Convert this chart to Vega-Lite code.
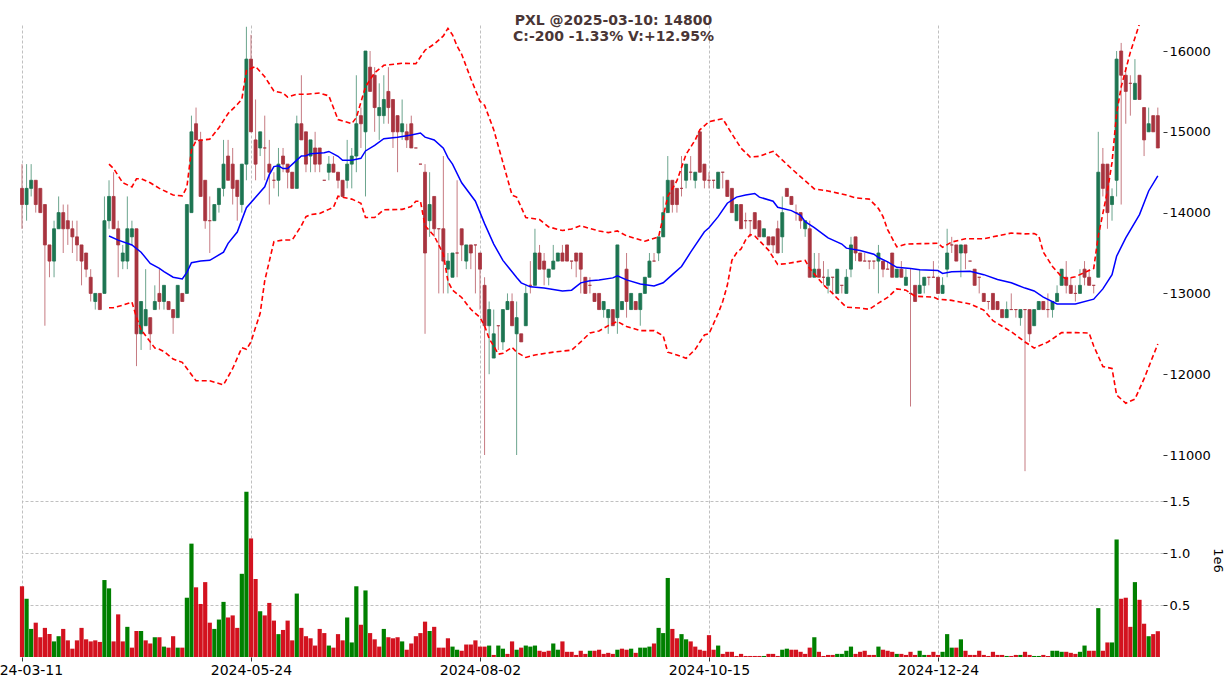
{
"$schema": "https://vega.github.io/schema/vega-lite/v6.json",
"width": 1141, "height": 632,
"autosize": {"type": "none"},
"padding": {"left": 22, "top": 25, "right": 63, "bottom": 33},
"background": "#ffffff",
"config": {"view": {"stroke": null}, "font": "DejaVu Sans",
  "axis": {"labelFont": "DejaVu Sans", "labelFontSize": 13, "labelColor": "#000000", "domain": false, "ticks": true, "tickSize": 4, "tickColor": "#000000", "tickWidth": 0.8, "grid": true, "gridColor": "#b0b0b0", "gridDash": [3, 2], "gridWidth": 0.8, "labelPadding": 2, "title": null}},
"title": {"text": ["PXL @2025-03-10: 14800", "C:-200 -1.33% V:+12.95%"], "font": "DejaVu Sans", "fontSize": 14, "fontWeight": "bold", "color": "#4a3636", "anchor": "middle", "frame": "group", "offset": -19, "dx": 21, "lineHeight": 16},
"datasets": {
"k": [
{"i":0,"o":14300,"h":14600,"l":13800,"c":14100,"v":680000,"vd":"d"},
{"i":1,"o":14100,"h":14600,"l":13900,"c":14300,"v":560000,"vd":"u"},
{"i":2,"o":14300,"h":14600,"l":14200,"c":14400,"v":270000,"vd":"u"},
{"i":3,"o":14400,"h":14400,"l":14000,"c":14100,"v":330000,"vd":"d"},
{"i":4,"o":14300,"h":14300,"l":14000,"c":14000,"v":190000,"vd":"d"},
{"i":5,"o":14100,"h":14100,"l":12600,"c":13600,"v":280000,"vd":"d"},
{"i":6,"o":13600,"h":13600,"l":13200,"c":13400,"v":220000,"vd":"d"},
{"i":7,"o":13400,"h":13900,"l":13200,"c":13800,"v":150000,"vd":"u"},
{"i":8,"o":13800,"h":14200,"l":13800,"c":14000,"v":200000,"vd":"u"},
{"i":9,"o":14000,"h":14100,"l":13500,"c":13800,"v":270000,"vd":"d"},
{"i":10,"o":13900,"h":14100,"l":13600,"c":13800,"v":160000,"vd":"d"},
{"i":11,"o":13800,"h":13900,"l":13500,"c":13700,"v":80000,"vd":"d"},
{"i":12,"o":13700,"h":13900,"l":13400,"c":13600,"v":160000,"vd":"d"},
{"i":13,"o":13600,"h":13600,"l":13100,"c":13400,"v":280000,"vd":"d"},
{"i":14,"o":13500,"h":13500,"l":13200,"c":13300,"v":170000,"vd":"d"},
{"i":15,"o":13200,"h":13300,"l":12900,"c":13000,"v":150000,"vd":"d"},
{"i":16,"o":12900,"h":13000,"l":12800,"c":13000,"v":160000,"vd":"d"},
{"i":17,"o":13000,"h":13000,"l":12800,"c":12800,"v":145000,"vd":"d"},
{"i":18,"o":13000,"h":14200,"l":13000,"c":13900,"v":740000,"vd":"u"},
{"i":19,"o":13900,"h":14400,"l":13800,"c":14200,"v":660000,"vd":"u"},
{"i":20,"o":14200,"h":14500,"l":13800,"c":13800,"v":150000,"vd":"d"},
{"i":21,"o":13800,"h":13900,"l":13200,"c":13600,"v":410000,"vd":"d"},
{"i":22,"o":13400,"h":13600,"l":13300,"c":13500,"v":150000,"vd":"d"},
{"i":23,"o":13400,"h":14200,"l":13300,"c":13800,"v":290000,"vd":"u"},
{"i":24,"o":13700,"h":13900,"l":13600,"c":13800,"v":90000,"vd":"d"},
{"i":25,"o":13800,"h":13800,"l":12100,"c":12500,"v":250000,"vd":"d"},
{"i":26,"o":12500,"h":12900,"l":12300,"c":12900,"v":250000,"vd":"u"},
{"i":27,"o":12600,"h":13300,"l":12600,"c":12800,"v":160000,"vd":"d"},
{"i":28,"o":12700,"h":12700,"l":12300,"c":12500,"v":130000,"vd":"d"},
{"i":29,"o":12800,"h":13100,"l":12800,"c":12900,"v":190000,"vd":"u"},
{"i":30,"o":13000,"h":13300,"l":12800,"c":12900,"v":190000,"vd":"d"},
{"i":31,"o":12900,"h":13100,"l":12800,"c":13100,"v":100000,"vd":"u"},
{"i":32,"o":12900,"h":12900,"l":12800,"c":12800,"v":90000,"vd":"d"},
{"i":33,"o":12800,"h":12800,"l":12500,"c":12700,"v":200000,"vd":"d"},
{"i":34,"o":12700,"h":13100,"l":12700,"c":13100,"v":90000,"vd":"u"},
{"i":35,"o":13000,"h":13000,"l":12900,"c":12900,"v":90000,"vd":"d"},
{"i":36,"o":13000,"h":14100,"l":13000,"c":14100,"v":570000,"vd":"u"},
{"i":37,"o":14000,"h":15200,"l":14000,"c":15000,"v":1090000,"vd":"u"},
{"i":38,"o":15100,"h":15300,"l":14900,"c":14900,"v":670000,"vd":"d"},
{"i":39,"o":14900,"h":15000,"l":14200,"c":14200,"v":510000,"vd":"d"},
{"i":40,"o":14400,"h":14400,"l":13800,"c":13900,"v":720000,"vd":"d"},
{"i":41,"o":13900,"h":14200,"l":13500,"c":13900,"v":330000,"vd":"d"},
{"i":42,"o":13900,"h":14100,"l":13900,"c":14100,"v":270000,"vd":"u"},
{"i":43,"o":14100,"h":14300,"l":14000,"c":14300,"v":360000,"vd":"u"},
{"i":44,"o":14300,"h":14900,"l":14200,"c":14600,"v":530000,"vd":"u"},
{"i":45,"o":14700,"h":14900,"l":14400,"c":14400,"v":380000,"vd":"d"},
{"i":46,"o":14600,"h":14800,"l":14100,"c":14300,"v":400000,"vd":"d"},
{"i":47,"o":14400,"h":14400,"l":13900,"c":14200,"v":280000,"vd":"d"},
{"i":48,"o":14100,"h":14600,"l":14000,"c":14600,"v":800000,"vd":"u"},
{"i":49,"o":14600,"h":16300,"l":14400,"c":15900,"v":1590000,"vd":"u"},
{"i":50,"o":15900,"h":16200,"l":15000,"c":15000,"v":1140000,"vd":"d"},
{"i":51,"o":14900,"h":15400,"l":14400,"c":14600,"v":750000,"vd":"d"},
{"i":52,"o":14800,"h":15000,"l":14700,"c":15000,"v":440000,"vd":"u"},
{"i":53,"o":14800,"h":15200,"l":14400,"c":14800,"v":400000,"vd":"d"},
{"i":54,"o":14600,"h":14900,"l":14100,"c":14500,"v":520000,"vd":"d"},
{"i":55,"o":14400,"h":14500,"l":14300,"c":14400,"v":350000,"vd":"d"},
{"i":56,"o":14400,"h":14800,"l":14200,"c":14600,"v":220000,"vd":"u"},
{"i":57,"o":14700,"h":14800,"l":14500,"c":14600,"v":260000,"vd":"d"},
{"i":58,"o":14600,"h":14600,"l":14300,"c":14500,"v":350000,"vd":"d"},
{"i":59,"o":14500,"h":14500,"l":14300,"c":14300,"v":160000,"vd":"d"},
{"i":60,"o":14300,"h":15200,"l":14300,"c":15100,"v":610000,"vd":"u"},
{"i":61,"o":15100,"h":15700,"l":14900,"c":14900,"v":280000,"vd":"d"},
{"i":62,"o":15000,"h":15000,"l":14500,"c":14600,"v":200000,"vd":"d"},
{"i":63,"o":14700,"h":14900,"l":14500,"c":14900,"v":180000,"vd":"d"},
{"i":64,"o":14800,"h":15000,"l":14500,"c":14600,"v":110000,"vd":"d"},
{"i":65,"o":14800,"h":14800,"l":14500,"c":14600,"v":270000,"vd":"d"},
{"i":66,"o":14400,"h":14400,"l":14400,"c":14400,"v":230000,"vd":"d"},
{"i":67,"o":14500,"h":14700,"l":14400,"c":14600,"v":110000,"vd":"u"},
{"i":68,"o":14600,"h":14700,"l":14500,"c":14500,"v":90000,"vd":"d"},
{"i":69,"o":14500,"h":14500,"l":14300,"c":14400,"v":220000,"vd":"d"},
{"i":70,"o":14400,"h":14400,"l":14200,"c":14200,"v":160000,"vd":"d"},
{"i":71,"o":14400,"h":14900,"l":14300,"c":14600,"v":380000,"vd":"u"},
{"i":72,"o":14600,"h":14800,"l":14300,"c":14700,"v":140000,"vd":"u"},
{"i":73,"o":14700,"h":15700,"l":14500,"c":15100,"v":680000,"vd":"u"},
{"i":74,"o":15200,"h":15300,"l":14800,"c":15100,"v":310000,"vd":"d"},
{"i":75,"o":15000,"h":16000,"l":14200,"c":16000,"v":640000,"vd":"u"},
{"i":76,"o":15800,"h":16000,"l":15500,"c":15500,"v":230000,"vd":"d"},
{"i":77,"o":15700,"h":15800,"l":15000,"c":15300,"v":170000,"vd":"d"},
{"i":78,"o":15200,"h":15600,"l":14900,"c":15300,"v":100000,"vd":"d"},
{"i":79,"o":15200,"h":15700,"l":15100,"c":15400,"v":270000,"vd":"u"},
{"i":80,"o":15500,"h":15800,"l":15100,"c":15300,"v":190000,"vd":"d"},
{"i":81,"o":15400,"h":15400,"l":14800,"c":15000,"v":180000,"vd":"d"},
{"i":82,"o":15200,"h":15200,"l":14500,"c":15000,"v":190000,"vd":"d"},
{"i":83,"o":15000,"h":15400,"l":14900,"c":15100,"v":150000,"vd":"u"},
{"i":84,"o":15000,"h":15100,"l":14800,"c":14900,"v":70000,"vd":"d"},
{"i":85,"o":15100,"h":15200,"l":14800,"c":14800,"v":130000,"vd":"d"},
{"i":86,"o":14800,"h":14800,"l":14800,"c":14800,"v":200000,"vd":"d"},
{"i":87,"o":14600,"h":14600,"l":14600,"c":14600,"v":230000,"vd":"d"},
{"i":88,"o":14500,"h":14600,"l":12500,"c":13500,"v":340000,"vd":"d"},
{"i":89,"o":13900,"h":14500,"l":13700,"c":14100,"v":250000,"vd":"u"},
{"i":90,"o":14200,"h":14200,"l":13700,"c":13800,"v":290000,"vd":"d"},
{"i":91,"o":13800,"h":13800,"l":13000,"c":13800,"v":90000,"vd":"d"},
{"i":92,"o":13800,"h":14700,"l":13000,"c":13400,"v":90000,"vd":"d"},
{"i":93,"o":13300,"h":13500,"l":13000,"c":13400,"v":180000,"vd":"d"},
{"i":94,"o":13200,"h":13500,"l":13200,"c":13500,"v":100000,"vd":"u"},
{"i":95,"o":13500,"h":14400,"l":13200,"c":13500,"v":70000,"vd":"u"},
{"i":96,"o":13800,"h":13800,"l":13400,"c":13600,"v":60000,"vd":"d"},
{"i":97,"o":13400,"h":13600,"l":13300,"c":13600,"v":120000,"vd":"d"},
{"i":98,"o":13600,"h":13600,"l":13300,"c":13500,"v":120000,"vd":"d"},
{"i":99,"o":13600,"h":13600,"l":13000,"c":13600,"v":160000,"vd":"d"},
{"i":100,"o":13500,"h":13500,"l":12800,"c":13300,"v":100000,"vd":"d"},
{"i":101,"o":13100,"h":13200,"l":11000,"c":12600,"v":100000,"vd":"d"},
{"i":102,"o":12600,"h":12900,"l":12000,"c":12800,"v":110000,"vd":"u"},
{"i":103,"o":12200,"h":12800,"l":12200,"c":12500,"v":20000,"vd":"d"},
{"i":104,"o":12600,"h":12600,"l":12300,"c":12600,"v":110000,"vd":"u"},
{"i":105,"o":12400,"h":12800,"l":12300,"c":12800,"v":80000,"vd":"u"},
{"i":106,"o":12800,"h":13000,"l":12800,"c":12900,"v":30000,"vd":"d"},
{"i":107,"o":12900,"h":13000,"l":12600,"c":12600,"v":150000,"vd":"d"},
{"i":108,"o":12500,"h":12900,"l":11000,"c":12700,"v":70000,"vd":"u"},
{"i":109,"o":12500,"h":12500,"l":12400,"c":12400,"v":90000,"vd":"d"},
{"i":110,"o":12600,"h":13100,"l":12600,"c":13000,"v":110000,"vd":"u"},
{"i":111,"o":13100,"h":13400,"l":13000,"c":13100,"v":100000,"vd":"u"},
{"i":112,"o":13100,"h":13800,"l":13100,"c":13500,"v":110000,"vd":"u"},
{"i":113,"o":13500,"h":13600,"l":13300,"c":13300,"v":60000,"vd":"d"},
{"i":114,"o":13400,"h":13500,"l":13100,"c":13300,"v":50000,"vd":"d"},
{"i":115,"o":13200,"h":13300,"l":13100,"c":13300,"v":60000,"vd":"d"},
{"i":116,"o":13300,"h":13600,"l":13300,"c":13400,"v":130000,"vd":"u"},
{"i":117,"o":13400,"h":13500,"l":13400,"c":13500,"v":70000,"vd":"u"},
{"i":118,"o":13500,"h":13600,"l":13400,"c":13400,"v":150000,"vd":"d"},
{"i":119,"o":13600,"h":13600,"l":13400,"c":13400,"v":50000,"vd":"d"},
{"i":120,"o":13400,"h":13400,"l":13300,"c":13400,"v":50000,"vd":"d"},
{"i":121,"o":13500,"h":13500,"l":13200,"c":13400,"v":20000,"vd":"d"},
{"i":122,"o":13500,"h":13500,"l":13000,"c":13300,"v":60000,"vd":"d"},
{"i":123,"o":13200,"h":13200,"l":13000,"c":13000,"v":30000,"vd":"d"},
{"i":124,"o":13100,"h":13200,"l":13000,"c":13100,"v":60000,"vd":"u"},
{"i":125,"o":13000,"h":13000,"l":12900,"c":12900,"v":60000,"vd":"d"},
{"i":126,"o":13000,"h":13000,"l":12800,"c":12800,"v":70000,"vd":"d"},
{"i":127,"o":12800,"h":12900,"l":12700,"c":12900,"v":30000,"vd":"d"},
{"i":128,"o":12700,"h":12800,"l":12500,"c":12800,"v":40000,"vd":"d"},
{"i":129,"o":12800,"h":12800,"l":12600,"c":12600,"v":30000,"vd":"d"},
{"i":130,"o":12700,"h":13600,"l":12500,"c":13600,"v":70000,"vd":"u"},
{"i":131,"o":12800,"h":12900,"l":12800,"c":12900,"v":80000,"vd":"d"},
{"i":132,"o":13300,"h":13500,"l":12700,"c":12900,"v":70000,"vd":"d"},
{"i":133,"o":12800,"h":13000,"l":12800,"c":13000,"v":80000,"vd":"u"},
{"i":134,"o":12900,"h":12900,"l":12800,"c":12800,"v":40000,"vd":"d"},
{"i":135,"o":12800,"h":13000,"l":12600,"c":13000,"v":90000,"vd":"u"},
{"i":136,"o":13000,"h":13200,"l":13000,"c":13200,"v":90000,"vd":"u"},
{"i":137,"o":13200,"h":13500,"l":13200,"c":13400,"v":100000,"vd":"u"},
{"i":138,"o":13400,"h":13500,"l":13400,"c":13400,"v":130000,"vd":"d"},
{"i":139,"o":13500,"h":13700,"l":13400,"c":13700,"v":280000,"vd":"u"},
{"i":140,"o":13700,"h":14200,"l":13700,"c":14000,"v":230000,"vd":"u"},
{"i":141,"o":14000,"h":14700,"l":14000,"c":14400,"v":760000,"vd":"u"},
{"i":142,"o":14400,"h":14400,"l":14000,"c":14100,"v":270000,"vd":"d"},
{"i":143,"o":14300,"h":14300,"l":14000,"c":14100,"v":180000,"vd":"d"},
{"i":144,"o":14300,"h":14700,"l":14200,"c":14300,"v":220000,"vd":"u"},
{"i":145,"o":14400,"h":14600,"l":14300,"c":14600,"v":170000,"vd":"u"},
{"i":146,"o":14500,"h":14700,"l":14400,"c":14500,"v":150000,"vd":"d"},
{"i":147,"o":14400,"h":14500,"l":14300,"c":14500,"v":100000,"vd":"d"},
{"i":148,"o":15000,"h":15000,"l":14500,"c":14500,"v":70000,"vd":"d"},
{"i":149,"o":14600,"h":14600,"l":14300,"c":14400,"v":60000,"vd":"d"},
{"i":150,"o":14400,"h":14500,"l":14300,"c":14400,"v":210000,"vd":"d"},
{"i":151,"o":14400,"h":14400,"l":14300,"c":14400,"v":70000,"vd":"d"},
{"i":152,"o":14300,"h":14500,"l":14300,"c":14500,"v":110000,"vd":"u"},
{"i":153,"o":14500,"h":14500,"l":14300,"c":14500,"v":30000,"vd":"d"},
{"i":154,"o":14400,"h":14400,"l":14200,"c":14200,"v":50000,"vd":"d"},
{"i":155,"o":14300,"h":14300,"l":14000,"c":14000,"v":50000,"vd":"d"},
{"i":156,"o":13900,"h":14100,"l":13900,"c":14100,"v":10000,"vd":"d"},
{"i":157,"o":14100,"h":14100,"l":13800,"c":13800,"v":30000,"vd":"d"},
{"i":158,"o":13900,"h":14000,"l":13800,"c":13900,"v":10000,"vd":"d"},
{"i":159,"o":13900,"h":13900,"l":13700,"c":13900,"v":10000,"vd":"d"},
{"i":160,"o":14000,"h":14000,"l":13800,"c":13800,"v":10000,"vd":"d"},
{"i":161,"o":13900,"h":13900,"l":13700,"c":13700,"v":10000,"vd":"d"},
{"i":162,"o":13700,"h":13800,"l":13700,"c":13800,"v":10000,"vd":"u"},
{"i":163,"o":13700,"h":13700,"l":13600,"c":13600,"v":30000,"vd":"d"},
{"i":164,"o":13700,"h":13700,"l":13500,"c":13600,"v":30000,"vd":"d"},
{"i":165,"o":13800,"h":13900,"l":13500,"c":13500,"v":10000,"vd":"d"},
{"i":166,"o":13700,"h":14200,"l":13500,"c":14000,"v":70000,"vd":"u"},
{"i":167,"o":14300,"h":14300,"l":14200,"c":14200,"v":80000,"vd":"u"},
{"i":168,"o":14200,"h":14200,"l":14100,"c":14100,"v":70000,"vd":"d"},
{"i":169,"o":14000,"h":14100,"l":13900,"c":14000,"v":70000,"vd":"d"},
{"i":170,"o":14000,"h":14000,"l":13800,"c":13900,"v":50000,"vd":"d"},
{"i":171,"o":13800,"h":13900,"l":13700,"c":13900,"v":30000,"vd":"d"},
{"i":172,"o":13800,"h":13900,"l":13200,"c":13200,"v":90000,"vd":"d"},
{"i":173,"o":13200,"h":13500,"l":13200,"c":13300,"v":190000,"vd":"u"},
{"i":174,"o":13300,"h":13500,"l":13200,"c":13200,"v":50000,"vd":"d"},
{"i":175,"o":13200,"h":13400,"l":13100,"c":13200,"v":10000,"vd":"d"},
{"i":176,"o":13100,"h":13300,"l":13000,"c":13200,"v":20000,"vd":"d"},
{"i":177,"o":13200,"h":13200,"l":13000,"c":13200,"v":20000,"vd":"d"},
{"i":178,"o":13000,"h":13300,"l":13000,"c":13300,"v":30000,"vd":"u"},
{"i":179,"o":13100,"h":13100,"l":13000,"c":13100,"v":30000,"vd":"u"},
{"i":180,"o":13000,"h":13300,"l":13000,"c":13200,"v":60000,"vd":"u"},
{"i":181,"o":13300,"h":13700,"l":13200,"c":13600,"v":100000,"vd":"u"},
{"i":182,"o":13700,"h":13700,"l":13400,"c":13500,"v":30000,"vd":"d"},
{"i":183,"o":13500,"h":13500,"l":13400,"c":13400,"v":50000,"vd":"d"},
{"i":184,"o":13400,"h":13500,"l":13400,"c":13400,"v":60000,"vd":"d"},
{"i":185,"o":13400,"h":13400,"l":13300,"c":13400,"v":20000,"vd":"d"},
{"i":186,"o":13400,"h":13400,"l":13300,"c":13400,"v":20000,"vd":"d"},
{"i":187,"o":13400,"h":13600,"l":13000,"c":13500,"v":100000,"vd":"u"},
{"i":188,"o":13400,"h":13400,"l":13200,"c":13300,"v":70000,"vd":"d"},
{"i":189,"o":13300,"h":13400,"l":13300,"c":13300,"v":60000,"vd":"d"},
{"i":190,"o":13500,"h":13500,"l":13200,"c":13200,"v":50000,"vd":"d"},
{"i":191,"o":13200,"h":13300,"l":13200,"c":13300,"v":30000,"vd":"u"},
{"i":192,"o":13300,"h":13400,"l":13200,"c":13200,"v":30000,"vd":"d"},
{"i":193,"o":13100,"h":13300,"l":13100,"c":13200,"v":20000,"vd":"d"},
{"i":194,"o":13000,"h":13300,"l":11600,"c":13000,"v":50000,"vd":"d"},
{"i":195,"o":13100,"h":13100,"l":12900,"c":12900,"v":20000,"vd":"d"},
{"i":196,"o":13000,"h":13300,"l":13000,"c":13100,"v":60000,"vd":"u"},
{"i":197,"o":13100,"h":13200,"l":13000,"c":13200,"v":20000,"vd":"u"},
{"i":198,"o":13200,"h":13200,"l":13100,"c":13200,"v":20000,"vd":"d"},
{"i":199,"o":13200,"h":13400,"l":13200,"c":13200,"v":50000,"vd":"d"},
{"i":200,"o":13200,"h":13200,"l":13000,"c":13000,"v":20000,"vd":"d"},
{"i":201,"o":13000,"h":13200,"l":13000,"c":13100,"v":50000,"vd":"u"},
{"i":202,"o":13300,"h":13800,"l":13200,"c":13500,"v":220000,"vd":"u"},
{"i":203,"o":13600,"h":13700,"l":13500,"c":13600,"v":90000,"vd":"u"},
{"i":204,"o":13600,"h":13600,"l":13400,"c":13400,"v":90000,"vd":"d"},
{"i":205,"o":13500,"h":13600,"l":13200,"c":13600,"v":170000,"vd":"u"},
{"i":206,"o":13600,"h":13600,"l":13300,"c":13500,"v":60000,"vd":"d"},
{"i":207,"o":13400,"h":13400,"l":13400,"c":13400,"v":20000,"vd":"d"},
{"i":208,"o":13300,"h":13300,"l":13100,"c":13100,"v":20000,"vd":"d"},
{"i":209,"o":13200,"h":13200,"l":13000,"c":13200,"v":60000,"vd":"d"},
{"i":210,"o":13000,"h":13000,"l":12900,"c":12900,"v":20000,"vd":"d"},
{"i":211,"o":12900,"h":12900,"l":12800,"c":12900,"v":10000,"vd":"d"},
{"i":212,"o":13000,"h":13000,"l":12800,"c":12800,"v":50000,"vd":"d"},
{"i":213,"o":12900,"h":12900,"l":12800,"c":12800,"v":20000,"vd":"d"},
{"i":214,"o":12800,"h":12800,"l":12700,"c":12700,"v":20000,"vd":"d"},
{"i":215,"o":12700,"h":12900,"l":12700,"c":12800,"v":10000,"vd":"u"},
{"i":216,"o":12800,"h":13000,"l":12800,"c":12800,"v":10000,"vd":"d"},
{"i":217,"o":12800,"h":12800,"l":12700,"c":12800,"v":20000,"vd":"d"},
{"i":218,"o":12700,"h":12800,"l":12600,"c":12800,"v":20000,"vd":"u"},
{"i":219,"o":12800,"h":12800,"l":10800,"c":12800,"v":50000,"vd":"d"},
{"i":220,"o":12800,"h":12800,"l":12400,"c":12500,"v":20000,"vd":"d"},
{"i":221,"o":12600,"h":12800,"l":12600,"c":12800,"v":10000,"vd":"u"},
{"i":222,"o":12800,"h":12900,"l":12800,"c":12900,"v":10000,"vd":"u"},
{"i":223,"o":12900,"h":12900,"l":12800,"c":12800,"v":20000,"vd":"d"},
{"i":224,"o":12800,"h":13000,"l":12700,"c":12800,"v":10000,"vd":"d"},
{"i":225,"o":12800,"h":12900,"l":12700,"c":12900,"v":60000,"vd":"u"},
{"i":226,"o":12900,"h":13100,"l":12900,"c":13000,"v":60000,"vd":"u"},
{"i":227,"o":13100,"h":13300,"l":13100,"c":13300,"v":50000,"vd":"u"},
{"i":228,"o":13200,"h":13400,"l":13000,"c":13100,"v":50000,"vd":"d"},
{"i":229,"o":13100,"h":13200,"l":13000,"c":13000,"v":40000,"vd":"d"},
{"i":230,"o":13000,"h":13100,"l":12900,"c":13000,"v":30000,"vd":"d"},
{"i":231,"o":13000,"h":13300,"l":13000,"c":13100,"v":50000,"vd":"u"},
{"i":232,"o":13300,"h":13400,"l":13100,"c":13200,"v":110000,"vd":"u"},
{"i":233,"o":13200,"h":13300,"l":13100,"c":13100,"v":60000,"vd":"d"},
{"i":234,"o":13100,"h":13100,"l":13000,"c":13100,"v":60000,"vd":"d"},
{"i":235,"o":13200,"h":15000,"l":13200,"c":14500,"v":470000,"vd":"u"},
{"i":236,"o":14600,"h":14800,"l":14200,"c":14300,"v":60000,"vd":"d"},
{"i":237,"o":14600,"h":14600,"l":13800,"c":14000,"v":140000,"vd":"d"},
{"i":238,"o":14100,"h":14300,"l":13900,"c":14200,"v":140000,"vd":"u"},
{"i":239,"o":14400,"h":16000,"l":14200,"c":15900,"v":1130000,"vd":"u"},
{"i":240,"o":16000,"h":16100,"l":14100,"c":15700,"v":560000,"vd":"d"},
{"i":241,"o":15700,"h":15800,"l":15100,"c":15500,"v":570000,"vd":"d"},
{"i":242,"o":15600,"h":15700,"l":15200,"c":15600,"v":290000,"vd":"d"},
{"i":243,"o":15400,"h":15900,"l":15400,"c":15600,"v":720000,"vd":"u"},
{"i":244,"o":15700,"h":15700,"l":15400,"c":15400,"v":550000,"vd":"d"},
{"i":245,"o":15300,"h":15300,"l":14700,"c":14900,"v":320000,"vd":"d"},
{"i":246,"o":15000,"h":15300,"l":15000,"c":15100,"v":200000,"vd":"u"},
{"i":247,"o":15200,"h":15200,"l":15000,"c":15000,"v":220000,"vd":"d"},
{"i":248,"o":15200,"h":15300,"l":14800,"c":14800,"v":248000,"vd":"d"}
],
"ma": [
{"i":19,"p":13710},{"i":21,"p":13660},{"i":24,"p":13600},{"i":26,"p":13510},{"i":28,"p":13370},{"i":30,"p":13310},{"i":31,"p":13270},{"i":33,"p":13200},{"i":35,"p":13180},{"i":36,"p":13260},{"i":37,"p":13380},{"i":39,"p":13400},{"i":41,"p":13410},{"i":44,"p":13510},{"i":45,"p":13620},{"i":47,"p":13760},{"i":48,"p":13910},{"i":49,"p":14060},{"i":51,"p":14190},{"i":53,"p":14320},{"i":54,"p":14470},{"i":55,"p":14570},{"i":56,"p":14580},{"i":57,"p":14545},{"i":58,"p":14545},{"i":60,"p":14650},{"i":61,"p":14700},{"i":62,"p":14705},{"i":63,"p":14730},{"i":66,"p":14742},{"i":67,"p":14757},{"i":69,"p":14697},{"i":70,"p":14647},{"i":72,"p":14647},{"i":74,"p":14672},{"i":75,"p":14763},{"i":77,"p":14833},{"i":79,"p":14914},{"i":82,"p":14934},{"i":85,"p":14960},{"i":87,"p":14985},{"i":88,"p":14934},{"i":90,"p":14899},{"i":92,"p":14798},{"i":93,"p":14681},{"i":94,"p":14600},{"i":96,"p":14369},{"i":99,"p":14141},{"i":101,"p":13864},{"i":103,"p":13611},{"i":105,"p":13409},{"i":107,"p":13268},{"i":108,"p":13197},{"i":109,"p":13131},{"i":111,"p":13081},{"i":114,"p":13066},{"i":118,"p":13030},{"i":120,"p":13040},{"i":122,"p":13131},{"i":124,"p":13157},{"i":126,"p":13167},{"i":129,"p":13192},{"i":130,"p":13217},{"i":132,"p":13167},{"i":135,"p":13116},{"i":138,"p":13091},{"i":140,"p":13131},{"i":142,"p":13232},{"i":144,"p":13333},{"i":146,"p":13510},{"i":149,"p":13763},{"i":150,"p":13813},{"i":152,"p":13950},{"i":154,"p":14116},{"i":156,"p":14192},{"i":158,"p":14217},{"i":160,"p":14237},{"i":161,"p":14192},{"i":164,"p":14141},{"i":165,"p":14066},{"i":168,"p":14025},{"i":170,"p":13965},{"i":171,"p":13889},{"i":173,"p":13813},{"i":176,"p":13687},{"i":179,"p":13611},{"i":180,"p":13560},{"i":183,"p":13530},{"i":186,"p":13485},{"i":187,"p":13444},{"i":189,"p":13390},{"i":191,"p":13323},{"i":194,"p":13308},{"i":196,"p":13293},{"i":200,"p":13283},{"i":201,"p":13248},{"i":203,"p":13268},{"i":207,"p":13273},{"i":210,"p":13232},{"i":213,"p":13172},{"i":216,"p":13131},{"i":219,"p":13066},{"i":221,"p":13030},{"i":223,"p":12955},{"i":226,"p":12869},{"i":230,"p":12869},{"i":234,"p":12929},{"i":236,"p":13056},{"i":238,"p":13232},{"i":239,"p":13460},{"i":241,"p":13687},{"i":244,"p":13975},{"i":246,"p":14268},{"i":248,"p":14455}
],
"up": [
{"i":19,"p":14600},{"i":20,"p":14545},{"i":22,"p":14369},{"i":24,"p":14318},{"i":25,"p":14419},{"i":26,"p":14419},{"i":28,"p":14369},{"i":30,"p":14300},{"i":33,"p":14217},{"i":35,"p":14207},{"i":36,"p":14318},{"i":37,"p":14773},{"i":38,"p":14889},{"i":41,"p":14909},{"i":43,"p":15050},{"i":45,"p":15227},{"i":47,"p":15338},{"i":48,"p":15404},{"i":49,"p":15758},{"i":51,"p":15808},{"i":53,"p":15682},{"i":55,"p":15505},{"i":57,"p":15480},{"i":58,"p":15429},{"i":60,"p":15465},{"i":62,"p":15465},{"i":65,"p":15480},{"i":67,"p":15445},{"i":69,"p":15152},{"i":72,"p":15101},{"i":73,"p":15177},{"i":75,"p":15556},{"i":77,"p":15732},{"i":79,"p":15823},{"i":83,"p":15848},{"i":86,"p":15843},{"i":88,"p":16010},{"i":90,"p":16086},{"i":92,"p":16187},{"i":93,"p":16280},{"i":94,"p":16200},{"i":95,"p":16060},{"i":96,"p":15960},{"i":98,"p":15657},{"i":100,"p":15379},{"i":101,"p":15328},{"i":103,"p":15025},{"i":105,"p":14621},{"i":107,"p":14217},{"i":108,"p":14192},{"i":110,"p":13939},{"i":113,"p":13914},{"i":115,"p":13823},{"i":118,"p":13778},{"i":120,"p":13798},{"i":122,"p":13838},{"i":124,"p":13803},{"i":126,"p":13773},{"i":128,"p":13753},{"i":130,"p":13773},{"i":132,"p":13712},{"i":136,"p":13646},{"i":139,"p":13700},{"i":140,"p":13950},{"i":141,"p":14200},{"i":143,"p":14394},{"i":145,"p":14722},{"i":147,"p":14899},{"i":148,"p":15025},{"i":150,"p":15126},{"i":153,"p":15162},{"i":155,"p":14975},{"i":157,"p":14798},{"i":159,"p":14687},{"i":161,"p":14697},{"i":164,"p":14758},{"i":168,"p":14545},{"i":171,"p":14394},{"i":173,"p":14293},{"i":176,"p":14268},{"i":180,"p":14217},{"i":182,"p":14182},{"i":185,"p":14167},{"i":187,"p":14051},{"i":188,"p":13950},{"i":189,"p":13790},{"i":191,"p":13576},{"i":193,"p":13611},{"i":200,"p":13621},{"i":201,"p":13571},{"i":203,"p":13636},{"i":206,"p":13677},{"i":210,"p":13677},{"i":213,"p":13712},{"i":216,"p":13747},{"i":219,"p":13737},{"i":221,"p":13740},{"i":222,"p":13712},{"i":223,"p":13510},{"i":225,"p":13333},{"i":227,"p":13207},{"i":228,"p":13182},{"i":230,"p":13207},{"i":232,"p":13258},{"i":234,"p":13308},{"i":235,"p":13712},{"i":237,"p":14268},{"i":238,"p":14621},{"i":239,"p":15227},{"i":240,"p":15556},{"i":242,"p":15985},{"i":244,"p":16338},{"i":246,"p":16650},{"i":248,"p":16900}
],
"lo": [
{"i":19,"p":12823},{"i":20,"p":12823},{"i":22,"p":12854},{"i":24,"p":12894},{"i":25,"p":12702},{"i":26,"p":12551},{"i":28,"p":12400},{"i":29,"p":12324},{"i":30,"p":12308},{"i":31,"p":12280},{"i":33,"p":12187},{"i":35,"p":12147},{"i":38,"p":11919},{"i":41,"p":11919},{"i":44,"p":11868},{"i":46,"p":12071},{"i":48,"p":12328},{"i":49,"p":12308},{"i":50,"p":12400},{"i":51,"p":12580},{"i":52,"p":12753},{"i":53,"p":13157},{"i":55,"p":13640},{"i":57,"p":13661},{"i":59,"p":13661},{"i":61,"p":13838},{"i":62,"p":13950},{"i":63,"p":13975},{"i":65,"p":13990},{"i":67,"p":14040},{"i":68,"p":14066},{"i":69,"p":14202},{"i":72,"p":14167},{"i":74,"p":14116},{"i":75,"p":13939},{"i":77,"p":13939},{"i":79,"p":14035},{"i":83,"p":14040},{"i":85,"p":14076},{"i":86,"p":14141},{"i":87,"p":14141},{"i":88,"p":13838},{"i":90,"p":13712},{"i":92,"p":13485},{"i":93,"p":13150},{"i":94,"p":13040},{"i":96,"p":12950},{"i":98,"p":12803},{"i":100,"p":12702},{"i":101,"p":12600},{"i":102,"p":12440},{"i":103,"p":12349},{"i":104,"p":12248},{"i":105,"p":12258},{"i":107,"p":12334},{"i":108,"p":12273},{"i":110,"p":12207},{"i":112,"p":12238},{"i":116,"p":12273},{"i":120,"p":12298},{"i":122,"p":12399},{"i":124,"p":12510},{"i":126,"p":12535},{"i":128,"p":12601},{"i":130,"p":12652},{"i":132,"p":12591},{"i":135,"p":12540},{"i":138,"p":12540},{"i":140,"p":12475},{"i":141,"p":12273},{"i":143,"p":12238},{"i":145,"p":12197},{"i":147,"p":12308},{"i":149,"p":12485},{"i":150,"p":12500},{"i":152,"p":12753},{"i":153,"p":12900},{"i":154,"p":13100},{"i":155,"p":13409},{"i":156,"p":13500},{"i":157,"p":13550},{"i":158,"p":13662},{"i":159,"p":13727},{"i":160,"p":13712},{"i":163,"p":13536},{"i":165,"p":13359},{"i":167,"p":13369},{"i":171,"p":13409},{"i":172,"p":13308},{"i":175,"p":13106},{"i":177,"p":13000},{"i":178,"p":12940},{"i":180,"p":12829},{"i":183,"p":12819},{"i":185,"p":12803},{"i":187,"p":12879},{"i":189,"p":12950},{"i":191,"p":13056},{"i":193,"p":13040},{"i":195,"p":12965},{"i":199,"p":12955},{"i":200,"p":12929},{"i":203,"p":12914},{"i":207,"p":12869},{"i":210,"p":12793},{"i":212,"p":12662},{"i":216,"p":12525},{"i":219,"p":12399},{"i":221,"p":12324},{"i":222,"p":12349},{"i":224,"p":12399},{"i":227,"p":12515},{"i":230,"p":12515},{"i":233,"p":12510},{"i":234,"p":12349},{"i":236,"p":12096},{"i":238,"p":12071},{"i":239,"p":11742},{"i":241,"p":11641},{"i":243,"p":11692},{"i":245,"p":11945},{"i":248,"p":12374}
]
},
"encoding": {
  "x": {"field": "i", "type": "quantitative", "scale": {"domain": [0, 249.13], "nice": false, "zero": false, "padding": 0},
    "axis": {"values": [0, 50, 100, 150, 200], "labelExpr": "datum.value == 0 ? '2024-03-11' : datum.value == 50 ? '2024-05-24' : datum.value == 100 ? '2024-08-02' : datum.value == 150 ? '2024-10-15' : '2024-12-24'", "labelFlush": false, "labelOverlap": false, "labelFontSize": 14, "title": null, "orient": "bottom"}}
},
"layer": [
  {"data": {"name": "k"},
   "mark": {"type": "bar", "width": 4.2},
   "encoding": {
     "y": {"field": "v", "type": "quantitative", "scale": {"domain": [0, 6077000], "nice": false, "zero": true},
       "axis": {"orient": "right", "values": [500000, 1000000, 1500000], "labelExpr": "format(datum.value / 1000000, '.1f')", "title": "1e6", "titleFont": "DejaVu Sans", "titleFontSize": 13, "titleFontWeight": "normal", "titleColor": "#000000", "titleAngle": 90, "titleX": 54, "titleY": 535, "titleAlign": "center", "titleBaseline": "middle"}},
     "color": {"condition": {"test": "datum.vd == 'u'", "value": "#008000"}, "value": "#d3121f"}
   }},
  {"layer": [
    {"data": {"name": "k"},
     "mark": {"type": "rule", "strokeWidth": 1, "opacity": 0.65},
     "encoding": {
       "y": {"field": "l", "type": "quantitative", "scale": {"domain": [8500, 16322], "nice": false, "zero": false},
         "axis": {"orient": "right", "values": [11000, 12000, 13000, 14000, 15000, 16000], "format": "d", "title": null}},
       "y2": {"field": "h"},
       "color": {"condition": {"test": "datum.c > datum.o", "value": "#1d7552"}, "value": "#a8343f"}
     }},
    {"data": {"name": "k"},
     "mark": {"type": "bar", "width": 3.0, "strokeWidth": 0.8},
     "encoding": {
       "y": {"field": "o", "type": "quantitative", "scale": {"domain": [8500, 16322], "nice": false, "zero": false},
         "axis": {"orient": "right", "values": [11000, 12000, 13000, 14000, 15000, 16000], "format": "d", "title": null}},
       "y2": {"field": "c"},
       "color": {"condition": {"test": "datum.c > datum.o", "value": "#1d7552"}, "value": "#a8343f"},
       "stroke": {"condition": {"test": "datum.c > datum.o", "value": "#1d7552"}, "value": "#a8343f"}
     }},
    {"data": {"name": "up"},
     "mark": {"type": "line", "color": "#ff0000", "strokeWidth": 1.6, "strokeDash": [5, 3], "clip": true},
     "encoding": {"y": {"field": "p", "type": "quantitative", "scale": {"domain": [8500, 16322], "nice": false, "zero": false},
         "axis": {"orient": "right", "values": [11000, 12000, 13000, 14000, 15000, 16000], "format": "d", "title": null}}}},
    {"data": {"name": "lo"},
     "mark": {"type": "line", "color": "#ff0000", "strokeWidth": 1.6, "strokeDash": [5, 3], "clip": true},
     "encoding": {"y": {"field": "p", "type": "quantitative", "scale": {"domain": [8500, 16322], "nice": false, "zero": false},
         "axis": {"orient": "right", "values": [11000, 12000, 13000, 14000, 15000, 16000], "format": "d", "title": null}}}},
    {"data": {"name": "ma"},
     "mark": {"type": "line", "color": "#0000ff", "strokeWidth": 1.5, "clip": true},
     "encoding": {"y": {"field": "p", "type": "quantitative", "scale": {"domain": [8500, 16322], "nice": false, "zero": false},
         "axis": {"orient": "right", "values": [11000, 12000, 13000, 14000, 15000, 16000], "format": "d", "title": null}}}}
  ]}
],
"resolve": {"scale": {"y": "independent"}, "axis": {"y": "independent"}}
}
